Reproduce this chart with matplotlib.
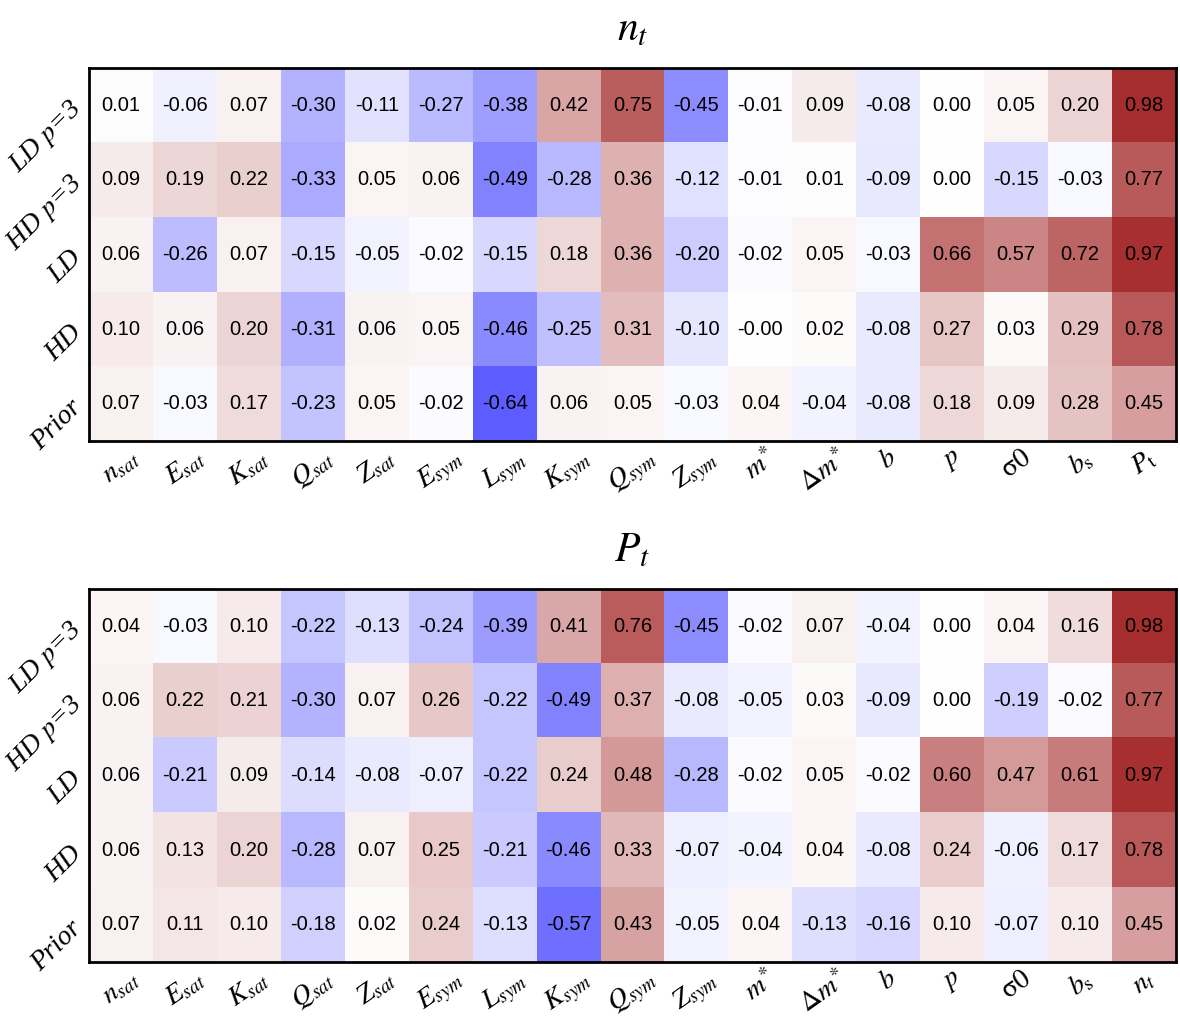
import numpy as np
import matplotlib.pyplot as plt
from matplotlib.colors import LinearSegmentedColormap

plt.rcParams['mathtext.fontset'] = 'stix'
plt.rcParams['font.family'] = 'Liberation Serif'

# 行标签与列标签
rows = ['LD $p$=3', 'HD $p$=3', 'LD', 'HD', 'Prior']
cols_common = [r'$n_{sat}$', r'$E_{sat}$', r'$K_{sat}$', r'$Q_{sat}$', r'$Z_{sat}$',
               r'$E_{sym}$', r'$L_{sym}$', r'$K_{sym}$', r'$Q_{sym}$', r'$Z_{sym}$',
               r'$m^{*}$', r'$\Delta m^{*}$', r'$b$', r'$p$', r'$\mathrm{\sigma}0$', r'$b_{\mathrm{s}}$']
cols_nt = cols_common + [r'$P_{\mathrm{t}}$']
cols_pt = cols_common + [r'$n_t$']

# n_t 相关系数
corr_nt = [
    [0.01, -0.06, 0.07, -0.30, -0.11, -0.27, -0.38, 0.42, 0.75, -0.45, -0.01, 0.09, -0.08, 0.00, 0.05, 0.20, 0.98],
    [0.09, 0.19, 0.22, -0.33, 0.05, 0.06, -0.49, -0.28, 0.36, -0.12, -0.01, 0.01, -0.09, 0.00, -0.15, -0.03, 0.77],
    [0.06, -0.26, 0.07, -0.15, -0.05, -0.02, -0.15, 0.18, 0.36, -0.20, -0.02, 0.05, -0.03, 0.66, 0.57, 0.72, 0.97],
    [0.10, 0.06, 0.20, -0.31, 0.06, 0.05, -0.46, -0.25, 0.31, -0.10, -0.0, 0.02, -0.08, 0.27, 0.03, 0.29, 0.78],
    [0.07, -0.03, 0.17, -0.23, 0.05, -0.02, -0.64, 0.06, 0.05, -0.03, 0.04, -0.04, -0.08, 0.18, 0.09, 0.28, 0.45],
]

# P_t 相关系数
corr_pt = [
    [0.04, -0.03, 0.10, -0.22, -0.13, -0.24, -0.39, 0.41, 0.76, -0.45, -0.02, 0.07, -0.04, 0.00, 0.04, 0.16, 0.98],
    [0.06, 0.22, 0.21, -0.30, 0.07, 0.26, -0.22, -0.49, 0.37, -0.08, -0.05, 0.03, -0.09, 0.00, -0.19, -0.02, 0.77],
    [0.06, -0.21, 0.09, -0.14, -0.08, -0.07, -0.22, 0.24, 0.48, -0.28, -0.02, 0.05, -0.02, 0.60, 0.47, 0.61, 0.97],
    [0.06, 0.13, 0.20, -0.28, 0.07, 0.25, -0.21, -0.46, 0.33, -0.07, -0.04, 0.04, -0.08, 0.24, -0.06, 0.17, 0.78],
    [0.07, 0.11, 0.10, -0.18, 0.02, 0.24, -0.13, -0.57, 0.43, -0.05, 0.04, -0.13, -0.16, 0.10, -0.07, 0.10, 0.45],
]

cmap = LinearSegmentedColormap.from_list('bwbr', ['blue', 'white', 'brown'])

fig = plt.figure(figsize=(11.8, 10.22), dpi=100)
ax1 = fig.add_axes([89 / 1180, 1 - 441 / 1022, 1087 / 1180, 373 / 1022])
ax2 = fig.add_axes([89 / 1180, 1 - 962 / 1022, 1087 / 1180, 373 / 1022])


def draw(ax, data, cols, title):
    data = np.array(data)
    ax.imshow(data, cmap=cmap, vmin=-1, vmax=1, aspect='auto')
    for i in range(data.shape[0]):
        for j in range(data.shape[1]):
            ax.text(j, i, f"{data[i, j]:.2f}", ha='center', va='center',
                    fontsize=14.5, family='Liberation Sans', color='black')
    ax.set_xticks(range(len(cols)))
    ax.set_xticklabels(cols, rotation=35, ha='center', fontsize=20)
    ax.set_yticks(range(len(rows)))
    ax.set_yticklabels(rows, rotation=45, ha='right', va='center', fontsize=20, style='italic', rotation_mode='anchor')
    ax.tick_params(axis='x', length=0, pad=3)
    ax.tick_params(axis='y', length=0, pad=8)
    for s in ax.spines.values():
        s.set_linewidth(2)
    ax.set_title(title, fontsize=30, pad=20)


draw(ax1, corr_nt, cols_nt, r'$n_t$')
draw(ax2, corr_pt, cols_pt, r'$P_t$')

plt.savefig('out.png', dpi=100)
